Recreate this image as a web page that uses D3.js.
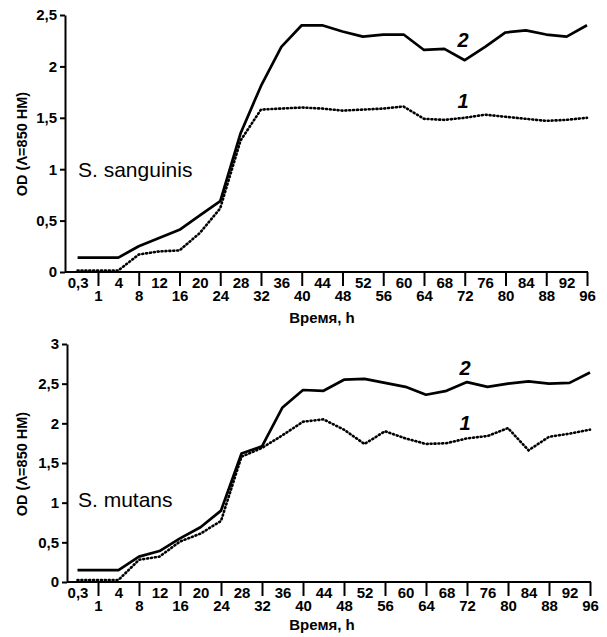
<!DOCTYPE html>
<html>
<head>
<meta charset="utf-8">
<script src="https://cdn.jsdelivr.net/npm/d3@7"></script>
<style>
  body { margin: 0; background: #fff; }
  svg { display: block; font-family: "Liberation Sans", Arial, sans-serif; }
  .axis text { font-size: 15px; font-weight: bold; fill: #000; }
  .axis line, .axis path { stroke: #000; stroke-width: 2px; }
</style>
</head>
<body>
<div class="container"></div>
<script>
// time points (hours), as printed on the axis
const timeLabels = ["0,3", "1", "4", "8", "12", "16", "20", "24", "28", "32", "36", "40", "44",
  "48", "52", "56", "60", "64", "68", "72", "76", "80", "84", "88", "92", "96"];

// S. sanguinis
const sanguinis1 = [0.015, 0.015, 0.015, 0.17, 0.2, 0.21, 0.38, 0.62, 1.28, 1.58, 1.59, 1.6, 1.59,
  1.57, 1.58, 1.59, 1.61, 1.49, 1.48, 1.5, 1.53, 1.51, 1.49, 1.47, 1.48, 1.5];
const sanguinis2 = [0.14, 0.14, 0.14, 0.25, 0.33, 0.41, 0.55, 0.69, 1.35, 1.81, 2.19, 2.4, 2.4,
  2.34, 2.29, 2.31, 2.31, 2.16, 2.17, 2.06, 2.19, 2.33, 2.35, 2.31, 2.29, 2.4];
const sanguinisTicks = [0, 0.5, 1, 1.5, 2, 2.5];

// S. mutans
const mutans1 = [0.025, 0.025, 0.025, 0.28, 0.32, 0.51, 0.61, 0.77, 1.58, 1.69, 1.85, 2.02, 2.05,
  1.92, 1.74, 1.9, 1.81, 1.74, 1.75, 1.81, 1.84, 1.94, 1.66, 1.83, 1.87, 1.92];
const mutans2 = [0.15, 0.15, 0.15, 0.32, 0.39, 0.55, 0.69, 0.9, 1.62, 1.71, 2.2, 2.42, 2.41,
  2.55, 2.56, 2.51, 2.46, 2.36, 2.41, 2.52, 2.46, 2.5, 2.53, 2.5, 2.51, 2.64];
const mutansTicks = [0, 0.5, 1, 1.5, 2, 2.5, 3];

const W = 607, H = 637;
const svg = d3.select(".container").append("svg").attr("width", W).attr("height", H);

const fmt = d => String(d).replace(".", ",");

function drawPanel(p) {
  const g = svg.append("g");
  const x = d3.scalePoint().domain(timeLabels).range([p.x0, p.x1]);
  const y = d3.scaleLinear().domain([0, p.ymax]).range([p.yBottom, p.yTop]);

  // x axis: ticks with labels on the lower row, unticked labels on the upper row
  const odd = timeLabels.filter((d, i) => i % 2 === 1);
  const even = timeLabels.filter((d, i) => i % 2 === 0);
  const xa1 = g.append("g").attr("class", "axis").attr("transform", "translate(0," + p.yBottom + ")")
    .call(d3.axisBottom(x).tickValues(odd).tickSize(14).tickPadding(4));
  xa1.select(".domain").remove();
  const xa2 = g.append("g").attr("class", "axis").attr("transform", "translate(0," + p.yBottom + ")")
    .call(d3.axisBottom(x).tickValues(even).tickSize(0).tickPadding(5));
  xa2.select(".domain").remove();
  g.append("line").attr("x1", p.left).attr("x2", x(timeLabels[timeLabels.length - 1]) + 1)
    .attr("y1", p.yBottom).attr("y2", p.yBottom).attr("stroke", "#000").attr("stroke-width", 2);

  // y axis
  g.append("g").attr("class", "axis").attr("transform", "translate(" + p.left + ",0)")
    .call(d3.axisLeft(y).tickValues(p.ticks).tickFormat(fmt).tickSize(5).tickSizeOuter(0).tickPadding(3));

  // axis titles
  g.append("text").attr("transform", "translate(27," + p.yMid + ") rotate(-90)")
    .attr("text-anchor", "middle").style("font-size", "14.5px").style("font-weight", "bold")
    .text("OD (\u039B=850 HM)");
  g.append("text").attr("x", 322).attr("y", p.xTitleY).attr("text-anchor", "middle")
    .style("font-size", "15px").style("font-weight", "bold").text("Время, h");

  // series
  const line = d3.line().x((d, i) => x(timeLabels[i])).y(d => y(d));
  g.append("path").datum(p.s2).attr("d", line).attr("fill", "none")
    .attr("stroke", "#000").attr("stroke-width", 2.7).attr("stroke-linejoin", "round");
  g.append("path").datum(p.s1).attr("d", line).attr("fill", "none")
    .attr("stroke", "#000").attr("stroke-width", 2.6).attr("stroke-linecap", "round")
    .attr("stroke-dasharray", "1,2.9");

  // series numbers and organism name
  g.append("text").attr("x", p.numX).attr("y", p.num2Y).attr("text-anchor", "middle")
    .style("font-size", "20px").style("font-weight", "bold").style("font-style", "italic").text("2");
  g.append("text").attr("x", p.numX).attr("y", p.num1Y).attr("text-anchor", "middle")
    .style("font-size", "20px").style("font-weight", "bold").style("font-style", "italic").text("1");
  g.append("text").attr("x", 78).attr("y", p.nameY).style("font-size", "21px").text(p.name);
}

drawPanel({
  name: "S. sanguinis", s1: sanguinis1, s2: sanguinis2, ticks: sanguinisTicks, ymax: 2.5,
  left: 65, x0: 77.6, x1: 587, yTop: 15, yBottom: 272, yMid: 144, xTitleY: 323,
  nameY: 177, numX: 463, num2Y: 47, num1Y: 108
});
drawPanel({
  name: "S. mutans", s1: mutans1, s2: mutans2, ticks: mutansTicks, ymax: 3,
  left: 67, x0: 77.5, x1: 590, yTop: 344, yBottom: 582, yMid: 464, xTitleY: 630,
  nameY: 507, numX: 465, num2Y: 375, num1Y: 430
});
</script>
</body>
</html>
